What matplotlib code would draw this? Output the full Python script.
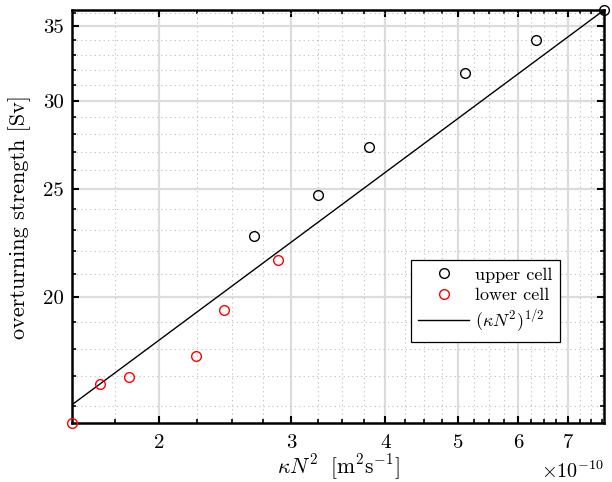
import matplotlib
matplotlib.use("Agg")
import matplotlib.pyplot as plt
import numpy as np
from matplotlib.ticker import FixedLocator, NullFormatter, FixedFormatter

plt.rcParams['font.family'] = 'cmr10'
plt.rcParams['mathtext.fontset'] = 'cm'
plt.rcParams['axes.unicode_minus'] = False
plt.rcParams['axes.formatter.use_mathtext'] = True

# kappa N^2 in units of 1e-10 m^2 s^-1, overturning in Sv
upper_x = [2.675, 3.254, 3.805, 5.104, 6.345, 7.81]
upper_y = [22.70, 24.69, 27.26, 31.77, 34.05, 36.18]
lower_x = [1.534, 1.671, 1.826, 2.243, 2.440, 2.879]
lower_y = [15.43, 16.73, 16.99, 17.72, 19.48, 21.59]

x_major = [2, 3, 4, 5, 6, 7]
y_major = [20, 25, 30, 35]

fig = plt.figure(figsize=(6.12, 4.82), dpi=100)
ax = fig.add_axes([0.118, 0.122, 0.869, 0.857])

# scaling line through the largest upper-cell point
xl = np.array([min(lower_x), max(upper_x)])
yl = upper_y[-1] * np.sqrt(xl / upper_x[-1])

ax.plot(upper_x, upper_y, 'o', mfc='none', mec='k', ms=7, mew=1.0,
        label='upper cell', clip_on=False, zorder=4)
ax.plot(lower_x, lower_y, 'o', mfc='none', mec='r', ms=7, mew=1.0,
        label='lower cell', clip_on=False, zorder=4)
ax.plot(xl, yl, '-', color='k', lw=1.0, label=r'$(\kappa N^2)^{1/2}$', zorder=3)

ax.set_xscale('log')
ax.set_yscale('log')
ax.set_xlim(min(lower_x), max(upper_x))
ax.set_ylim(min(lower_y), max(upper_y))

ax.xaxis.set_major_locator(FixedLocator(x_major))
ax.xaxis.set_major_formatter(FixedFormatter([str(v) for v in x_major]))
x_minor = [v for v in np.arange(1.5, 8.01, 0.25) if v not in x_major]
ax.xaxis.set_minor_locator(FixedLocator(x_minor))
ax.xaxis.set_minor_formatter(NullFormatter())

ax.yaxis.set_major_locator(FixedLocator(y_major))
ax.yaxis.set_major_formatter(FixedFormatter([str(v) for v in y_major]))
y_minor = [v for v in range(15, 37) if v not in y_major]
ax.yaxis.set_minor_locator(FixedLocator(y_minor))
ax.yaxis.set_minor_formatter(NullFormatter())

ax.grid(True, which='major', color='#dcdcdc', lw=1.6, ls='-')
ax.grid(True, which='minor', color='#bdbdbd', lw=0.8, ls=(0, (1, 3)))
ax.set_axisbelow(True)

for s in ax.spines.values():
    s.set_linewidth(1.8)
ax.tick_params(which='both', direction='in', top=True, right=True, labelsize=15)
ax.tick_params(which='major', length=5, width=1.5)
ax.tick_params(which='minor', length=3, width=1.2)
ax.tick_params(axis='x', pad=8)
ax.tick_params(axis='y', pad=6)

ax.set_xlabel(r'$\kappa N^2\ \ [\mathrm{m}^2\mathrm{s}^{-1}]$', fontsize=15.5, labelpad=0)
ax.set_ylabel('overturning strength [Sv]', fontsize=16, labelpad=9)
ax.text(1.0, -0.09, r'$\times 10^{-10}$', transform=ax.transAxes,
        ha='right', va='top', fontsize=14.5)

leg = ax.legend(loc='lower right', bbox_to_anchor=(0.917, 0.196), fontsize=13,
                fancybox=False, framealpha=1, edgecolor='k', handlelength=2.8,
                borderpad=0.4, labelspacing=0.25, handletextpad=0.35,
                borderaxespad=0)
leg.get_frame().set_linewidth(0.9)

fig.savefig('out.png', dpi=100)
